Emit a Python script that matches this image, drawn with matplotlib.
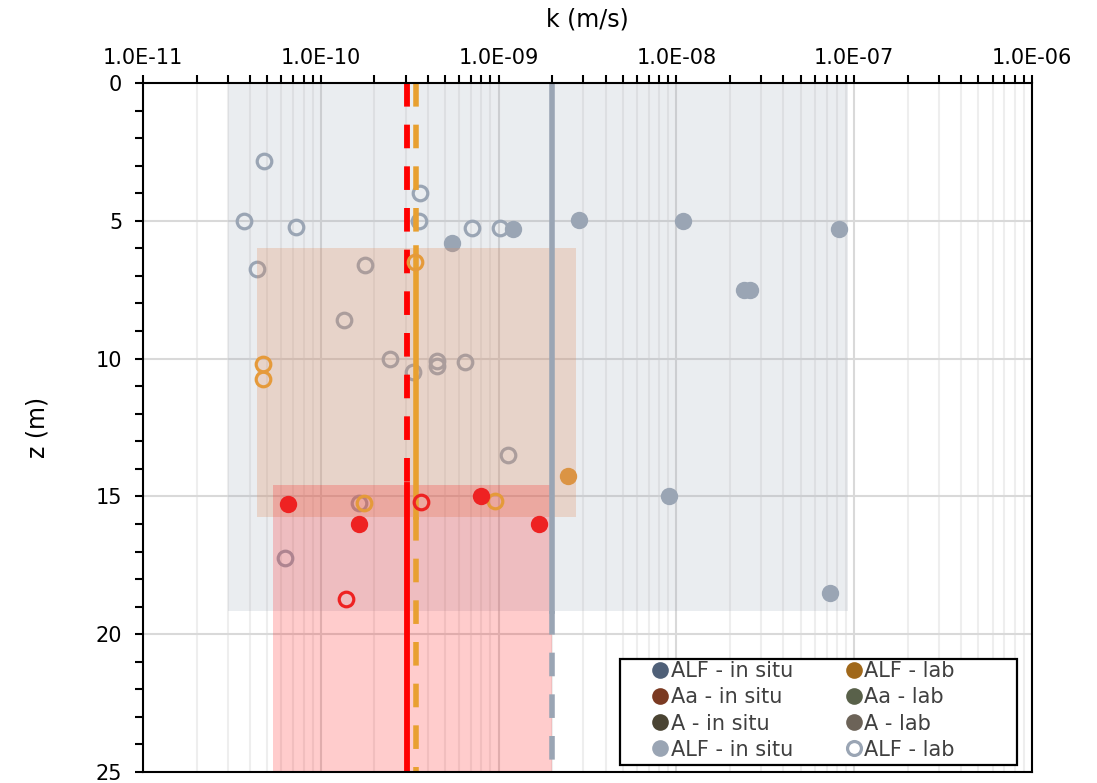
import numpy as np
import matplotlib
matplotlib.use('Agg')
import matplotlib.pyplot as plt
from matplotlib.lines import Line2D
from matplotlib.patches import Rectangle
from matplotlib.ticker import FixedLocator, FuncFormatter, LogLocator, NullFormatter

plt.rcParams['font.family'] = ['DejaVu Sans']
plt.rcParams['lines.scale_dashes'] = False

# ALF - lab (open grey circles)
alf_lab_k = [4.8e-11, 3.7e-11, 7.3e-11, 3.6e-10, 3.55e-10, 7.1e-10, 1.02e-9, 4.4e-11,
             1.77e-10, 1.35e-10, 2.45e-10, 4.5e-10, 4.5e-10, 6.5e-10, 3.3e-10, 1.13e-9,
             6.3e-11, 1.65e-10]
alf_lab_z = [2.83, 5.0, 5.22, 4.0, 5.0, 5.26, 5.26, 6.75,
             6.6, 8.6, 10.0, 10.1, 10.27, 10.12, 10.49, 13.5,
             17.24, 15.24]

# ALF - in situ (filled grey circles)
alf_situ_k = [5.5e-10, 1.2e-9, 2.83e-9, 1.09e-8, 8.2e-8, 2.4e-8, 2.6e-8, 9.1e-9, 7.3e-8]
alf_situ_z = [5.8, 5.3, 4.97, 5.0, 5.3, 7.5, 7.5, 15.0, 18.5]

# orange group
or_lab_k = [3.4e-10, 4.73e-11, 4.73e-11, 1.75e-10, 9.55e-10]
or_lab_z = [6.5, 10.2, 10.74, 15.24, 15.17]
or_situ_k = [2.46e-9]
or_situ_z = [14.26]

# red group
red_situ_k = [6.55e-11, 1.64e-10, 7.96e-10, 1.69e-9]
red_situ_z = [15.28, 16.0, 14.99, 16.0]
red_lab_k = [3.66e-10, 1.39e-10]
red_lab_z = [15.2, 18.72]

# ranges (k_min, k_max, z_top, z_bottom) and mean k
grey_range = [3.0e-11, 9.2e-8, 0.0, 19.15]
tan_range = [4.37e-11, 2.72e-9, 6.0, 15.76]
red_range = [5.36e-11, 2.0e-9, 14.6, 25.0]
grey_mean = 2.0e-9
tan_mean = 3.45e-10
red_mean = 3.05e-10

legend_labels = ['ALF - in situ', 'Aa - in situ', 'A - in situ', 'ALF - in situ',
                 'ALF - lab', 'Aa - lab', 'A - lab', 'ALF - lab']
legend_colors = ['#4F6078', '#7B3A22', '#4A4433', '#9AA5B4',
                 '#A0681A', '#59614A', '#6C6358', '#9AA5B4']

GREY = '#9AA5B4'
ORANGE = '#E59A3A'
ORLINE = '#E8A030'
RED = '#EE2222'

fig = plt.figure(figsize=(10.97, 7.83), dpi=100)
ax = fig.add_axes([143/1097, 1-772/783, 889/1097, 689/783])
ax.set_xscale('log')
ax.set_xlim(1e-11, 1e-6)
ax.set_ylim(25, 0)

# grid
ax.set_axisbelow(True)
ax.grid(True, which='major', axis='x', color='#D9D9D9', lw=1.5, zorder=0)
ax.grid(True, which='minor', axis='x', color='#EEEEEE', lw=1.5, zorder=0)
ax.grid(True, which='major', axis='y', color='#D9D9D9', lw=1.5, zorder=0)

def band(r, color, alpha, z):
    ax.fill_between([r[0], r[1]], r[2], r[3], color=color, alpha=alpha, lw=0, zorder=z)

band(grey_range, GREY, 0.2, 1)
# grey points sit below the coloured bands
ax.plot(alf_situ_k, alf_situ_z, 'o', color=GREY, ms=12.5, mew=0, zorder=2)
ax.plot(alf_lab_k, alf_lab_z, 'o', mfc='none', mec=GREY, ms=10.5, mew=2.3, zorder=2)
band(tan_range, '#E08958', 0.25, 3)
band(red_range, '#FF0000', 0.2, 3)

dash = (0, (17, 13))
# mean lines: solid inside the range, dashed outside
ax.plot([grey_mean, grey_mean], [0, grey_range[3]], color=GREY, lw=4, zorder=4)
ax.plot([grey_mean, grey_mean], [grey_range[3], 25], color=GREY, lw=4, ls=dash, zorder=4)
ax.plot([red_mean, red_mean], [0, red_range[2]], color='#FF0000', lw=4.2, ls=dash, zorder=5)
ax.plot([red_mean, red_mean], [red_range[2], 25], color='#FF0000', lw=4.2, zorder=5)
ax.plot([tan_mean, tan_mean], [0, tan_range[2]], color=ORLINE, lw=4, ls=dash, zorder=5)
ax.plot([tan_mean, tan_mean], [tan_range[2], tan_range[3]], color=ORLINE, lw=4, zorder=5)
ax.plot([tan_mean, tan_mean], [tan_range[3], 25], color=ORLINE, lw=4, ls=dash, zorder=5)

ax.plot(or_situ_k, or_situ_z, 'o', color='#DB9444', ms=12.5, mew=0, zorder=6)
ax.plot(or_lab_k, or_lab_z, 'o', mfc='none', mec=ORANGE, ms=10.5, mew=2.3, zorder=6)
ax.plot(red_situ_k, red_situ_z, 'o', color=RED, ms=12.5, mew=0, zorder=6)
ax.plot(red_lab_k, red_lab_z, 'o', mfc='none', mec=RED, ms=10.5, mew=2.3, zorder=6)

# axes styling
ax.xaxis.tick_top()
ax.xaxis.set_label_position('top')
ax.xaxis.set_major_locator(FixedLocator([1e-11, 1e-10, 1e-9, 1e-8, 1e-7, 1e-6]))
ax.xaxis.set_minor_locator(LogLocator(base=10, subs=np.arange(2, 10)))
ax.xaxis.set_major_formatter(FuncFormatter(lambda v, p: '%.1E' % v))
ax.xaxis.set_minor_formatter(NullFormatter())
ax.set_yticks([0, 5, 10, 15, 20, 25])
ax.set_yticks(np.arange(0, 26, 1), minor=True)
ax.tick_params(axis='both', which='both', direction='out', length=6, width=1.5,
               labelsize=15, colors='black')
ax.tick_params(axis='x', pad=5)
ax.tick_params(axis='y', pad=9)
for s in ax.spines.values():
    s.set_linewidth(1.5)
    s.set_zorder(10)
ax.set_xlabel('k (m/s)', fontsize=17, labelpad=15)
ax.set_ylabel('z (m)', fontsize=17, labelpad=33)

# legend with a separate frame
frame = Rectangle(((620-143)/889, (772-765)/689), (1017-620)/889, (765-659)/689,
                  transform=ax.transAxes, facecolor='white', edgecolor='black',
                  lw=1.6, zorder=20)
ax.add_patch(frame)
handles = []
for i, c in enumerate(legend_colors):
    if i == 7:
        handles.append(Line2D([], [], marker='o', ls='none', mfc='white', mec=c, mew=2.3, ms=10))
    else:
        handles.append(Line2D([], [], marker='o', ls='none', color=c, ms=12, mew=0))
leg = ax.legend(handles, legend_labels, ncol=2, frameon=False, loc='upper left',
                bbox_to_anchor=((650-143)/889, (772-661)/689), borderaxespad=0,
                borderpad=0, handlelength=1.0, handletextpad=0.0, labelspacing=0.3,
                columnspacing=2.4, fontsize=15)
leg.set_zorder(21)
for t in leg.get_texts():
    t.set_color('#404040')

fig.savefig('out.png', dpi=100)
